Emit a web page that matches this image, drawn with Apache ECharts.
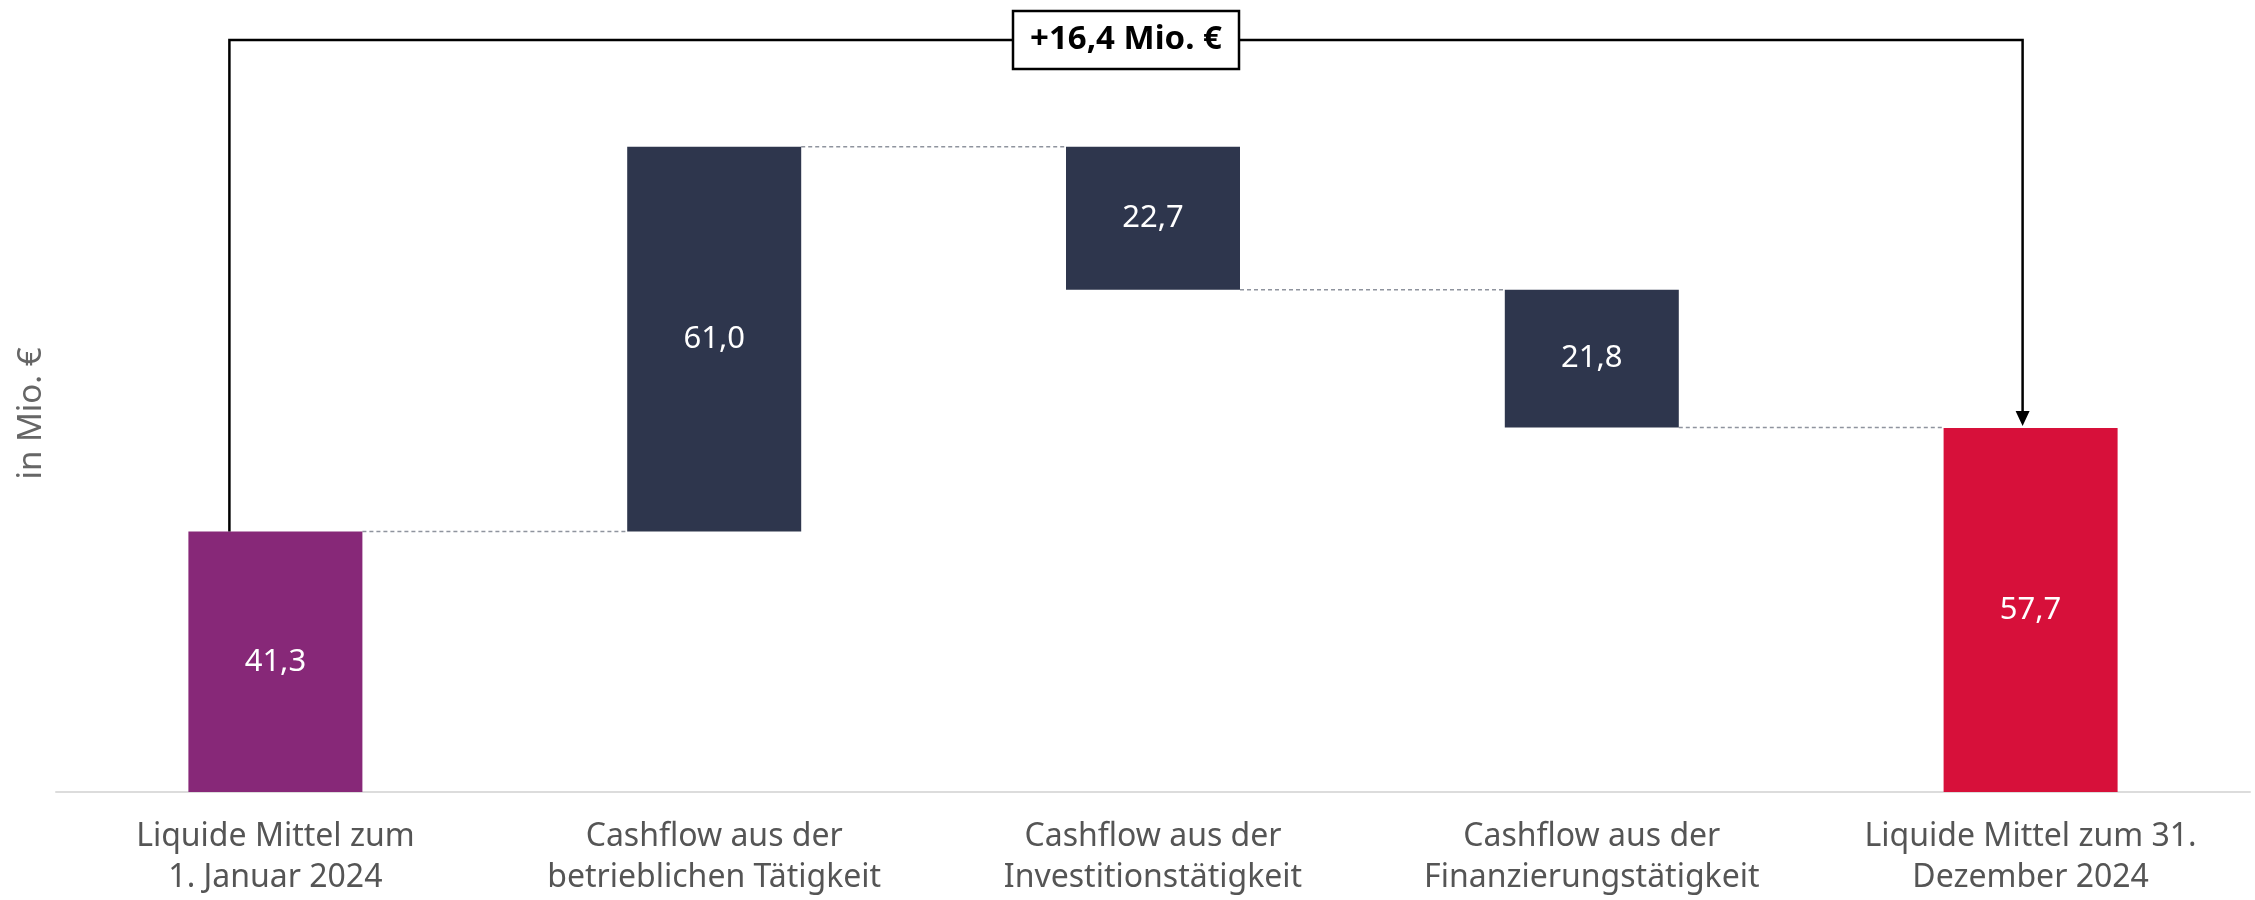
<!DOCTYPE html>
<html>
<head>
<meta charset="utf-8">
<script src="https://cdn.jsdelivr.net/npm/echarts@6/dist/echarts.min.js"></script>
<style>
html,body{margin:0;padding:0;background:#fff;}
#chart{width:2255px;height:900px;}
</style>
</head>
<body>
<div id="chart"></div>
<script>
// ---- data ----
const categories = [
  'Liquide Mittel zum\n1. Januar 2024',
  'Cashflow aus der\nbetrieblichen Tätigkeit',
  'Cashflow aus der\nInvestitionstätigkeit',
  'Cashflow aus der\nFinanzierungstätigkeit',
  'Liquide Mittel zum 31.\nDezember 2024'
];
const openingBalance = 41.3;
const cashflows = [61.0, -22.7, -21.8];
const closingBalance = 57.7;
const yAxisName = 'in Mio. €';

// ---- derived ----
const fmt = v => Math.abs(v).toFixed(1).replace('.', ',');
const baseData = [0];
const heightData = [openingBalance];
const runLevels = [openingBalance];
let run = openingBalance;
cashflows.forEach(c => {
  const next = run + c;
  baseData.push(Math.min(run, next));
  heightData.push(Math.abs(c));
  run = next;
  runLevels.push(run);
});
baseData.push(0);
heightData.push(closingBalance);
const connectorData = runLevels.map((lvl, i) => [i, lvl]);
const delta = closingBalance - openingBalance;
const deltaText = (delta >= 0 ? '+' : '-') + fmt(delta) + ' Mio. €';

// ---- styles ----
const FONT = 'Noto Sans';
const BAR_W = 174;
const barColors = ['#872878', '#2e364d', '#2e364d', '#2e364d', '#d7103a'];
const BRACKET_LEVEL = 119.2;

const chart = echarts.init(document.getElementById('chart'), null, {renderer: 'canvas'});
chart.setOption({
  animation: false,
  backgroundColor: '#fff',
  textStyle: {fontFamily: FONT},
  grid: {left: 56, right: 5, top: 35, bottom: 108, containLabel: false, outerBoundsMode: 'none'},
  xAxis: {
    type: 'category',
    data: categories,
    axisLine: {lineStyle: {color: '#dcdcdc', width: 2}},
    axisTick: {show: false},
    axisLabel: {color: '#555', fontSize: 32, lineHeight: 41, margin: 24, interval: 0, fontFamily: FONT}
  },
  yAxis: {
    type: 'value',
    min: 0, max: 120,
    axisLine: {show: false},
    axisTick: {show: false},
    axisLabel: {show: false},
    splitLine: {show: false},
    name: yAxisName,
    nameLocation: 'middle',
    nameRotate: 90,
    nameGap: 8,
    nameTextStyle: {color: '#666', fontSize: 33, fontFamily: FONT}
  },
  series: [
    {
      type: 'bar', stack: 'w', barWidth: BAR_W, silent: true,
      itemStyle: {color: 'transparent'},
      data: baseData
    },
    {
      type: 'bar', stack: 'w', barWidth: BAR_W,
      data: heightData.map((v, i) => ({value: v, itemStyle: {color: barColors[i]}})),
      label: {
        show: true, position: 'inside', color: '#fff', fontSize: 31, fontFamily: FONT,
        formatter: p => fmt(p.value)
      }
    },
    {
      type: 'custom', clip: false, silent: true,
      data: connectorData,
      encode: {x: 0, y: 1},
      renderItem: (params, api) => {
        const i = api.value(0), lvl = api.value(1);
        const a = api.coord([i, lvl]);
        const b = api.coord([i + 1, lvl]);
        return {
          type: 'line',
          shape: {x1: a[0] + BAR_W / 2, y1: a[1], x2: b[0] - BAR_W / 2, y2: b[1]},
          style: {stroke: '#8f949e', lineWidth: 1.5, lineDash: [4, 3]}
        };
      }
    },
    {
      type: 'custom', clip: false, silent: true, z: 5,
      data: [[0, BRACKET_LEVEL]],
      encode: {x: 0, y: 1},
      renderItem: (params, api) => {
        const lvl = api.value(1);
        const s = api.coord([0, openingBalance]);
        const t = api.coord([0, lvl]);
        const r = api.coord([categories.length - 1, lvl]);
        const e = api.coord([categories.length - 1, closingBalance]);
        const lx = s[0] - 46, rx = r[0] - 8;
        const ty = t[1];
        const tipY = e[1] - 2;
        const mx = (lx + rx) / 2;
        return {
          type: 'group',
          children: [
            {type: 'polyline', shape: {points: [[lx, s[1]], [lx, ty], [rx, ty], [rx, tipY - 14]]},
             style: {stroke: '#000', lineWidth: 2.5, fill: null}},
            {type: 'polygon', shape: {points: [[rx - 7, tipY - 15], [rx + 7, tipY - 15], [rx, tipY]]},
             style: {fill: '#000'}},
            {type: 'rect', shape: {x: mx - 113, y: ty - 29, width: 226, height: 58},
             style: {fill: '#fff', stroke: '#000', lineWidth: 2.5}},
            {type: 'text', style: {text: deltaText, x: mx, y: ty, align: 'center', verticalAlign: 'middle',
              fontSize: 33, fontWeight: 'bold', fontFamily: FONT, fill: '#000'}}
          ]
        };
      }
    }
  ]
});
</script>
</body>
</html>
